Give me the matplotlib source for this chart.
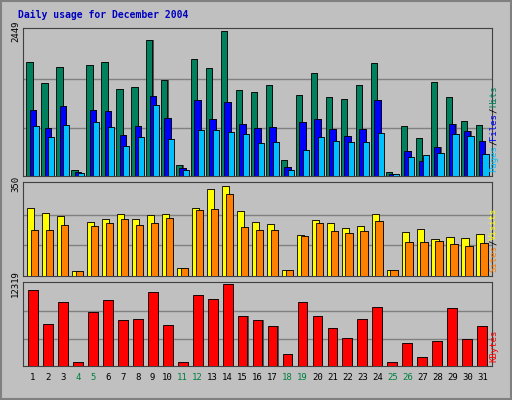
import matplotlib
matplotlib.use("Agg")
import matplotlib.pyplot as plt
from matplotlib.patches import Rectangle

days = list(range(1, 32))
weekend_days = [4, 5, 11, 12, 18, 19, 25, 26]

hits = [1929, 1576, 1845, 101, 1878, 1929, 1476, 1509, 2298, 1627, 184, 1979, 1828, 2449, 1459, 1425,
        1543, 268, 1375, 1744, 1325, 1308, 1543, 1912, 67, 839, 637, 1593, 1325, 922, 855]
files = [1107, 805, 1174, 67, 1107, 1090, 688, 839, 1342, 973, 134, 1275, 956, 1241, 872, 805,
         822, 151, 906, 956, 788, 671, 788, 1275, 34, 419, 252, 486, 872, 755, 587]
pages = [839, 654, 855, 50, 906, 822, 503, 654, 1191, 621, 101, 771, 771, 738, 704, 553,
         570, 101, 436, 654, 587, 570, 570, 721, 34, 319, 352, 386, 704, 671, 369]
visits = [257, 238, 227, 19, 205, 216, 234, 216, 231, 234, 30, 257, 331, 342, 246, 205,
          197, 22, 156, 212, 201, 182, 190, 234, 22, 167, 179, 141, 149, 145, 160]
sites = [175, 175, 194, 19, 190, 201, 216, 194, 201, 220, 30, 249, 253, 313, 186, 175,
         175, 22, 153, 201, 171, 164, 171, 208, 22, 130, 130, 134, 123, 115, 127]
kbytes = [11416, 6309, 9613, 601, 8111, 9913, 6909, 7059, 11115, 6158, 601, 10664, 10063, 12319,
          7510, 6909, 6008, 1802, 9613, 7510, 5708, 4206, 7059, 8862, 601, 3455, 1352, 3755,
          8712, 4055, 6008]

BG = "#C0C0C0"
MONO = "DejaVu Sans Mono"
CHAR_H = 0.0135  # vertical advance per rotated monospace character, figure fraction

fig = plt.figure(figsize=(5.12, 4.0), dpi=100, facecolor=BG)
fig.patches.append(Rectangle((0.002, 0.002), 0.996, 0.996, transform=fig.transFigure,
                             fill=False, edgecolor="#808080", linewidth=1.5))
fig.text(0.035, 0.975, "Daily usage for December 2004", color="#0000C0", fontsize=7,
         fontweight="bold", family=MONO, va="top")


def panel(rect, series, width, offsets, colors, ymax, right_labels):
    ax = fig.add_axes(rect, facecolor=BG)
    for vals, off, col in zip(series, offsets, colors):
        ax.bar([d + off + 0.07 for d in days], vals, width=width, color="#505050", zorder=2)
        ax.bar([d + off for d in days], vals, width=width, color=col,
               edgecolor="black", linewidth=0.6, zorder=3)
    ax.set_xlim(0.35, 31.65)
    ax.set_ylim(0, ymax * 1.02)
    for frac in (1 / 3, 2 / 3):
        ax.axhline(ymax * frac, color="#808080", linewidth=1, zorder=1)
    ax.set_yticks([ymax])
    ax.set_yticklabels([str(ymax)], rotation=90, va="center", fontsize=6.5, family=MONO)
    ax.tick_params(axis="y", length=0, pad=2)
    ax.set_xticks([])
    for s in ax.spines.values():
        s.set_color("#404040")
    x0, y0, w, h = rect
    ypos = y0 + 0.01
    for txt, col in right_labels:
        fig.text(x0 + w + 0.012, ypos, txt, color=col, rotation=90, fontsize=6.5,
                 family=MONO, va="bottom", ha="left", rotation_mode="anchor")
        ypos += len(txt) * CHAR_H
    return ax


panel([0.045, 0.56, 0.916, 0.37], [hits, files, pages], 0.42, [-0.22, 0.0, 0.22],
      ["#00805C", "#0000FF", "#00C0FF"], 2449,
      [("Pages", "#00C0FF"), ("/", "black"), ("Files", "#0000FF"), ("/", "black"),
       ("Hits", "#00805C")])
panel([0.045, 0.31, 0.916, 0.235], [visits, sites], 0.5, [-0.14, 0.12],
      ["#FFFF00", "#FF8000"], 350,
      [("Sites", "#FF8000"), ("/", "black"), ("Visits", "#FFFF00")])
ax3 = panel([0.045, 0.085, 0.916, 0.21], [kbytes], 0.66, [0.0], ["#FF0000"], 12319,
            [("KBytes", "#FF0000")])

ax3.set_xticks(days)
ax3.set_xticklabels([str(d) for d in days], fontsize=6.5, family=MONO)
ax3.tick_params(axis="x", length=0, pad=5)
for lbl, d in zip(ax3.get_xticklabels(), days):
    lbl.set_color("#008040" if d in weekend_days else "black")

fig.savefig("out.png", dpi=100, facecolor=BG)
